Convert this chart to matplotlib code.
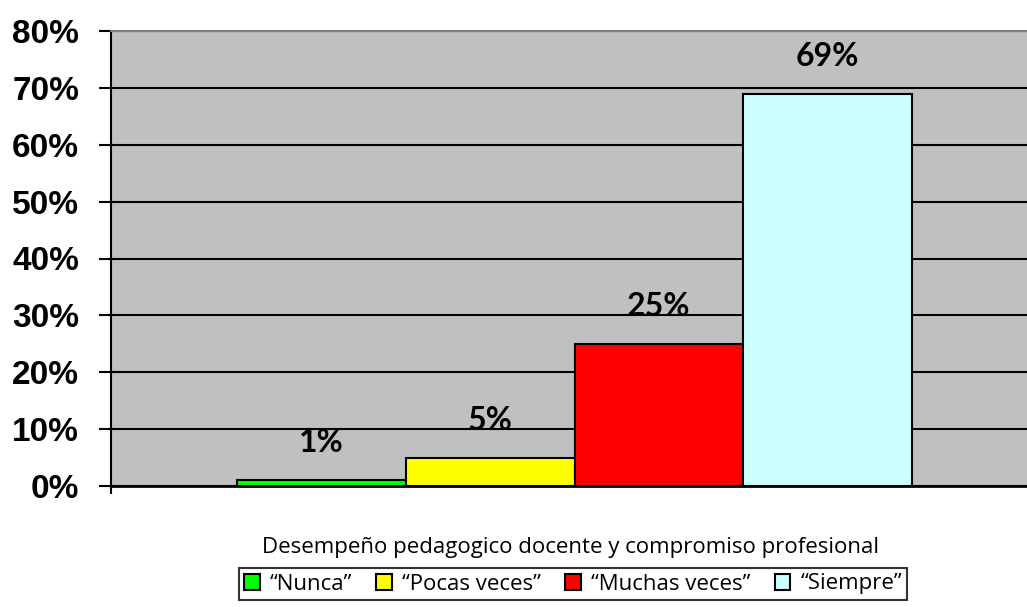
import numpy as np
import matplotlib.pyplot as plt
from matplotlib.ticker import PercentFormatter

categorias = ['\u201cNunca\u201d', '\u201cPocas veces\u201d', '\u201cMuchas veces\u201d', '\u201cSiempre\u201d']
valores = [1, 5, 25, 69]
colores = ['#00FF00', '#FFFF00', '#FF0000', '#CCFFFF']
etiquetas = ['1%', '5%', '25%', '69%']
titulo_x = 'Desempeño pedagogico docente y compromiso profesional'

fig = plt.figure(figsize=(10.27, 6.07), dpi=100)
ax = fig.add_axes([111 / 1027, 121 / 607, 916 / 1027, 455 / 607])
ax.set_facecolor('#C0C0C0')

x = np.arange(len(valores))
for i, (v, c, lab) in enumerate(zip(valores, colores, categorias)):
    ax.bar(x[i], v, width=1.0, color=c, edgecolor='black', linewidth=1.5,
           label=lab, zorder=3)
    ax.annotate(etiquetas[i], (x[i], v), xytext=(0, 27), textcoords='offset points',
                ha='center', va='center', fontsize=23, fontweight='bold',
                family='Lato', zorder=4)

xmin = -1.246
ax.set_xlim(xmin, 4.18)
ax.set_ylim(0, 80)
ax.set_yticks(np.arange(0, 81, 10))
ax.yaxis.set_major_formatter(PercentFormatter(decimals=0))
ax.grid(axis='y', color='black', linewidth=1.5, zorder=1)
ax.set_xticks([xmin])
ax.set_xticklabels([''])
ax.tick_params(axis='x', length=6, width=1.5)
for lbl in ax.get_yticklabels():
    lbl.set_fontweight('bold')
    lbl.set_fontsize(24)
    lbl.set_family('Liberation Sans')
ax.tick_params(axis='y', length=9, width=1.5, pad=14)

ax.spines['left'].set_linewidth(1.5)
ax.spines['bottom'].set_linewidth(2)
ax.spines['top'].set_color('#808080')
ax.spines['top'].set_linewidth(1.5)
ax.spines['right'].set_visible(False)

fig.text(570 / 1027, 1 - 547 / 607, titulo_x, ha='center', va='center',
         fontsize=16, family='Open Sans')

leg = fig.legend(loc='center', bbox_to_anchor=(573 / 1027, 1 - 584 / 607), ncol=4,
                 frameon=True, fancybox=False, edgecolor='black', handlelength=0.7,
                 handleheight=0.7, handletextpad=0.45, columnspacing=1.1,
                 borderpad=0.25, prop={'family': 'Open Sans', 'size': 16})
leg.get_frame().set_linewidth(1.5)

fig.savefig('out.png', dpi=100)
